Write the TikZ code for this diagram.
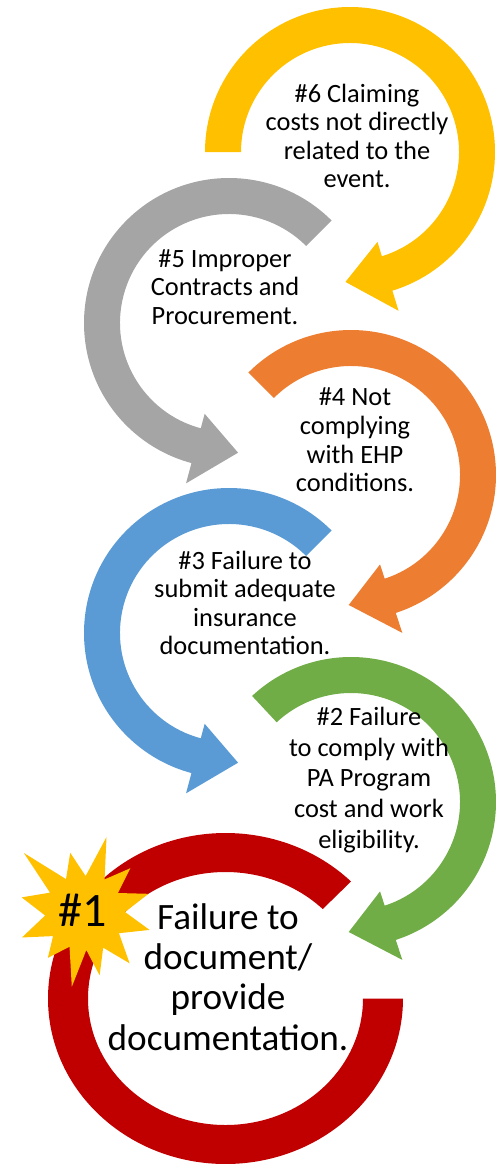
\documentclass[tikz,border=0pt]{standalone}
\usepackage{fontspec}
\setmainfont{Carlito}
\usepackage{tikz}
\usetikzlibrary{positioning}

\definecolor{gold}{HTML}{FFC000}
\definecolor{grey}{HTML}{A5A5A5}
\definecolor{orng}{HTML}{ED7D31}
\definecolor{sky}{HTML}{5B9BD5}
\definecolor{leaf}{HTML}{70AD47}
\definecolor{crimson}{HTML}{C00000}

% circular arrow: centre x, centre y, start angle, head base angle, tip angle, colour
\newcommand{\turnarrow}[6]{%
\fill[#6, shift={(#1,#2)}] (#3:145) arc[start angle=#3, end angle=#4, radius=145]
  -- (#4:166) -- (#5:130) -- (#4:94) -- (#4:109)
  arc[start angle=#4, end angle=#3, radius=109] -- cycle;}

\tikzset{
  step text/.style={align=center, font=\fontsize{13.2}{14.3}\selectfont},
  big text/.style={align=center, font=\fontsize{18.6}{20.2}\selectfont}
}

\begin{document}
\begin{tikzpicture}[x=0.5pt, y=0.5pt]
\useasboundingbox (0,0) rectangle (496,-1164);

\turnarrow{350}{-152}{180}{-73}{-92}{gold}
\turnarrow{229}{-323}{45}{255}{274}{grey}
\turnarrow{351}{-475}{135}{-72}{-91}{orng}
\turnarrow{229}{-633}{45}{255}{274}{sky}
\turnarrow{351}{-802}{133}{-72}{-91}{leaf}

% last ring, no head
\fill[crimson, shift={(225.5,-998.5)}] ({177.5*cos(45)},{165.5*sin(45)})
  arc[start angle=45, end angle=360, x radius=177.5, y radius=165.5]
  -- (137.5,0) arc[start angle=360, end angle=45, x radius=137.5, y radius=126.5] -- cycle;

% star
\fill[gold, shift={(85,-912)}] (74:78) -- (59:38) -- (44:63) -- (30:38) -- (16:66) -- (0:40)
  -- (-15.5:67) -- (-32:40) -- (-49:68) -- (-63:40) -- (-77:65) -- (-88:38)
  -- (-100:76) -- (-114:38) -- (-129:59) -- (-143:40) -- (-158:68) -- (-175:40)
  -- (167:65) -- (151:40) -- (136:85) -- (120:38) -- (104:61) -- (89:36) -- cycle;

\node at (357,-136) (six) [step text] {\#6 Claiming\\costs not directly\\related to the\\event.};
\node at (225,-287) (five) [step text] {\#5 Improper\\Contracts and\\Procurement.};
\node at (355,-440) (four) [step text] {\#4 Not\\complying\\with EHP\\conditions.};
\node at (245,-603) (three) [step text] {\#3 Failure to\\submit adequate\\insurance\\documentation.};
\node at (369,-780) (two) [step text, font=\fontsize{13.2}{15.3}\selectfont] {\#2 Failure\\to comply with\\PA Program\\cost and work\\eligibility.};
\node at (228,-977) (one) [big text] {Failure to\\document/\\provide\\documentation.};
\node at (83,-910) (rank) [font=\fontsize{24}{28}\selectfont] {\#1};
\end{tikzpicture}
\end{document}
